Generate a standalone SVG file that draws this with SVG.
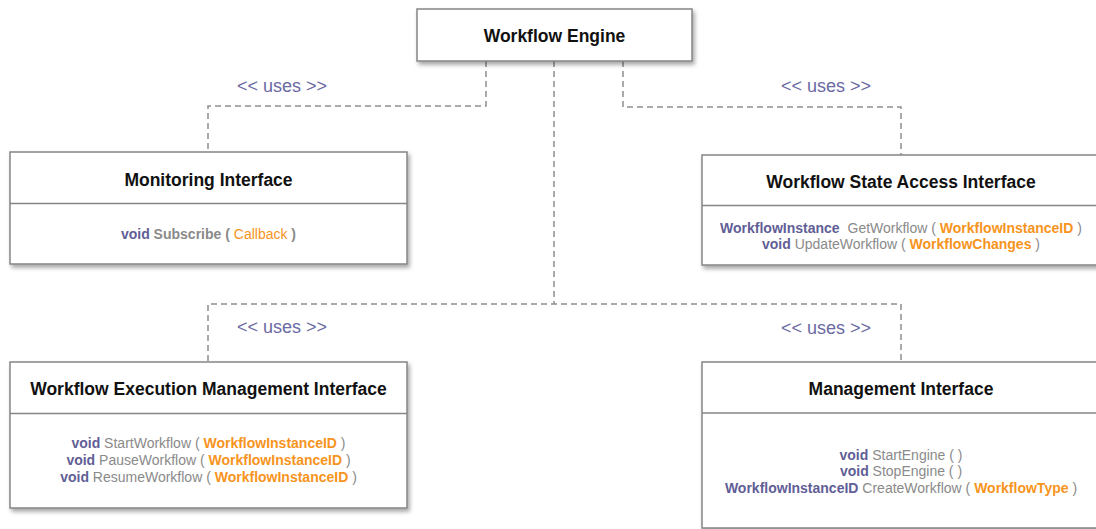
<svg xmlns="http://www.w3.org/2000/svg" width="1096" height="529" viewBox="0 0 1096 529">
<defs>
<filter id="sh" x="-10%" y="-20%" width="130%" height="150%">
<feDropShadow dx="2" dy="3" stdDeviation="2" flood-color="#000" flood-opacity="0.35"/>
</filter>
<style>
.box{fill:#fff;stroke:#858585;stroke-width:1.5;filter:url(#sh)}
.div{stroke:#858585;stroke-width:1.5}
.conn{fill:none;stroke:#8e8e8e;stroke-width:1.5;stroke-dasharray:6 4}
.t{font-family:"Liberation Sans",Arial,sans-serif;font-weight:bold;font-size:17.5px;fill:#111;text-anchor:middle}
.m{font-family:"Liberation Sans",Arial,sans-serif;font-size:14px;fill:#8a8a8a;text-anchor:middle}
.u{font-family:"Liberation Sans",Arial,sans-serif;font-size:18px;fill:#6b6aa3}
.k{fill:#5f5e96;font-weight:bold}
.o{fill:#f7941d;font-weight:bold}
.on{fill:#f7941d}
.b{font-weight:bold}
</style>
</defs>
<rect width="1096" height="529" fill="#fff"/>
<g id="connectors">
<polyline class="conn" points="486,61 486,106 208,106 208,152"/>
<polyline class="conn" points="623,61 623,107 901,107 901,155"/>
<polyline class="conn" points="554,61 554,304"/>
<polyline class="conn" points="208,361 208,304 901,304 901,361"/>
<text class="u" x="237" y="92">&lt;&lt; uses &gt;&gt;</text>
<text class="u" x="781" y="92">&lt;&lt; uses &gt;&gt;</text>
<text class="u" x="237" y="333">&lt;&lt; uses &gt;&gt;</text>
<text class="u" x="781" y="334">&lt;&lt; uses &gt;&gt;</text>
</g>
<g id="engine">
<rect class="box" x="417" y="9" width="275" height="52"/>
<text class="t" x="554.5" y="42">Workflow Engine</text>
</g>
<g id="monitoring">
<rect class="box" x="10" y="152" width="397" height="112"/>
<line class="div" x1="10" y1="203.5" x2="407" y2="203.5"/>
<text class="t" x="208.5" y="186">Monitoring Interface</text>
<text class="m" x="208.5" y="239"><tspan class="k">void</tspan><tspan class="b"> Subscribe ( </tspan><tspan class="on">Callback</tspan><tspan class="b"> )</tspan></text>
</g>
<g id="state">
<rect class="box" x="702" y="155" width="398" height="110"/>
<line class="div" x1="702" y1="205.5" x2="1100" y2="205.5"/>
<text class="t" x="901" y="188">Workflow State Access Interface</text>
<text class="m" x="901" y="233"><tspan class="k">WorkflowInstance</tspan><tspan dx="4"> GetWorkflow ( </tspan><tspan class="o">WorkflowInstanceID</tspan> )</text>
<text class="m" x="901" y="249"><tspan class="k">void</tspan> UpdateWorkflow ( <tspan class="o">WorkflowChanges</tspan> )</text>
</g>
<g id="execution">
<rect class="box" x="10" y="362" width="397" height="146"/>
<line class="div" x1="10" y1="413.5" x2="407" y2="413.5"/>
<text class="t" x="208.5" y="395">Workflow Execution Management Interface</text>
<text class="m" x="208.5" y="448"><tspan class="k">void</tspan> StartWorkflow ( <tspan class="o">WorkflowInstanceID</tspan> )</text>
<text class="m" x="208.5" y="465"><tspan class="k">void</tspan> PauseWorkflow ( <tspan class="o">WorkflowInstanceID</tspan> )</text>
<text class="m" x="208.5" y="482"><tspan class="k">void</tspan> ResumeWorkflow ( <tspan class="o">WorkflowInstanceID</tspan> )</text>
</g>
<g id="management">
<rect class="box" x="702" y="362" width="398" height="166"/>
<line class="div" x1="702" y1="413" x2="1100" y2="413"/>
<text class="t" x="901" y="395">Management Interface</text>
<text class="m" x="901" y="460"><tspan class="k">void</tspan> StartEngine ( )</text>
<text class="m" x="901" y="476"><tspan class="k">void</tspan> StopEngine ( )</text>
<text class="m" x="901" y="493"><tspan class="k">WorkflowInstanceID</tspan> CreateWorkflow ( <tspan class="o">WorkflowType</tspan> )</text>
</g>
</svg>
